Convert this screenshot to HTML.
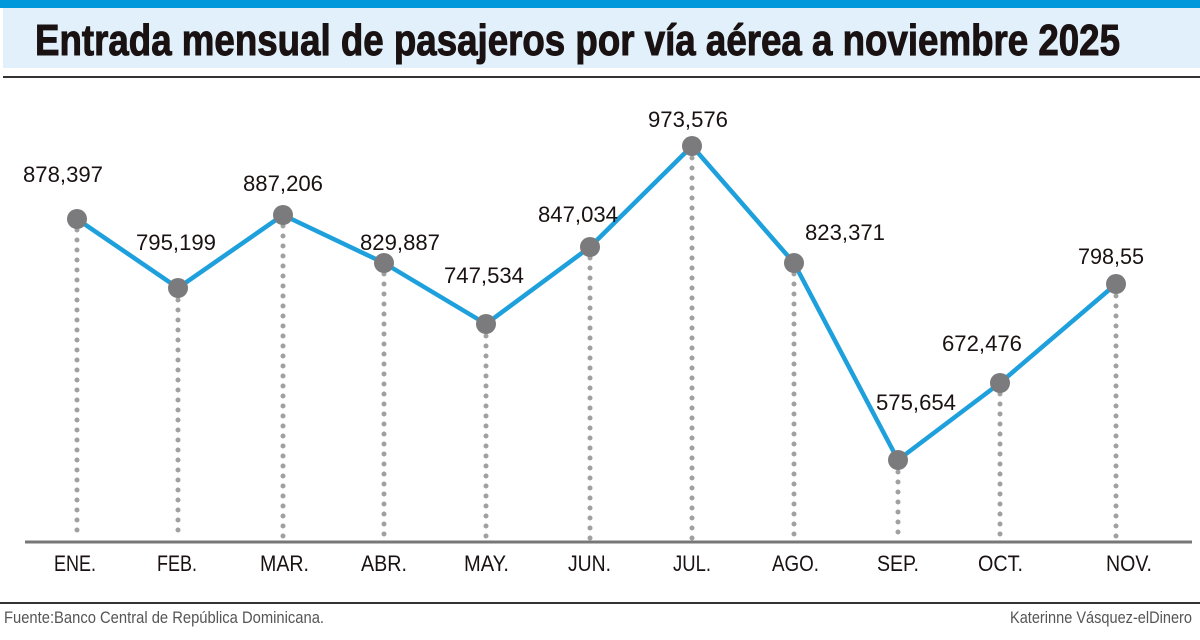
<!DOCTYPE html>
<html><head><meta charset="utf-8"><style>
html,body{margin:0;padding:0;background:#fff}
svg{display:block}
text{font-family:"Liberation Sans",sans-serif}
</style></head><body>
<svg width="1200" height="640" viewBox="0 0 1200 640" xmlns="http://www.w3.org/2000/svg">
<rect x="0" y="0" width="1200" height="8" fill="#0098da"/>
<rect x="3" y="8" width="1197" height="60" fill="#e1f0fa"/>
<text x="35" y="55" font-size="44" font-weight="bold" fill="#1a1212" stroke="#1a1212" stroke-width="1" textLength="1085" lengthAdjust="spacingAndGlyphs">Entrada mensual de pasajeros por vía aérea a noviembre 2025</text>
<line x1="3" y1="77" x2="1200" y2="77" stroke="#333" stroke-width="2"/>
<g stroke="#a0a0a0" stroke-width="5" stroke-linecap="round" stroke-dasharray="0 10">
<line x1="77" y1="230" x2="77" y2="540"/>
<line x1="178" y1="300" x2="178" y2="540"/>
<line x1="283" y1="226" x2="283" y2="540"/>
<line x1="384" y1="274" x2="384" y2="540"/>
<line x1="486" y1="336" x2="486" y2="540"/>
<line x1="590" y1="258" x2="590" y2="540"/>
<line x1="692" y1="158" x2="692" y2="540"/>
<line x1="794" y1="274" x2="794" y2="540"/>
<line x1="898" y1="472" x2="898" y2="540"/>
<line x1="1000" y1="394" x2="1000" y2="540"/>
<line x1="1116" y1="296" x2="1116" y2="540"/>
</g>
<line x1="25" y1="542" x2="1192" y2="542" stroke="#777" stroke-width="3"/>
<polyline fill="none" stroke="#1ea0dc" stroke-width="4.5" stroke-linejoin="round" points="77,219 178,288 283,215 384,263 486,324 590,247 692,146 794,263 898,460 1000,383 1116,284"/>
<g fill="#7b7b7d">
<circle cx="77" cy="219" r="10"/><circle cx="178" cy="288" r="10"/><circle cx="283" cy="215" r="10"/><circle cx="384" cy="263" r="10"/><circle cx="486" cy="324" r="10"/><circle cx="590" cy="247" r="10"/><circle cx="692" cy="146" r="10"/><circle cx="794" cy="263" r="10"/><circle cx="898" cy="460" r="10"/><circle cx="1000" cy="383" r="10"/><circle cx="1116" cy="284" r="10"/>
</g>
<g font-size="22" fill="#1a1212">
<text x="23" y="182" textLength="80" lengthAdjust="spacingAndGlyphs">878,397</text>
<text x="136" y="250" textLength="80" lengthAdjust="spacingAndGlyphs">795,199</text>
<text x="243" y="191" textLength="80" lengthAdjust="spacingAndGlyphs">887,206</text>
<text x="360" y="250" textLength="80" lengthAdjust="spacingAndGlyphs">829,887</text>
<text x="444" y="283" textLength="80" lengthAdjust="spacingAndGlyphs">747,534</text>
<text x="538" y="222" textLength="80" lengthAdjust="spacingAndGlyphs">847,034</text>
<text x="648" y="127" textLength="80" lengthAdjust="spacingAndGlyphs">973,576</text>
<text x="805" y="240" textLength="80" lengthAdjust="spacingAndGlyphs">823,371</text>
<text x="876" y="410" textLength="80" lengthAdjust="spacingAndGlyphs">575,654</text>
<text x="942" y="351" textLength="80" lengthAdjust="spacingAndGlyphs">672,476</text>
<text x="1078" y="264" textLength="66" lengthAdjust="spacingAndGlyphs">798,55</text>
</g>
<g font-size="22" fill="#1a1212">
<text x="54" y="571" textLength="42" lengthAdjust="spacingAndGlyphs">ENE.</text>
<text x="157" y="571" textLength="40" lengthAdjust="spacingAndGlyphs">FEB.</text>
<text x="260" y="571" textLength="49" lengthAdjust="spacingAndGlyphs">MAR.</text>
<text x="361" y="571" textLength="46" lengthAdjust="spacingAndGlyphs">ABR.</text>
<text x="464" y="571" textLength="45" lengthAdjust="spacingAndGlyphs">MAY.</text>
<text x="568" y="571" textLength="43" lengthAdjust="spacingAndGlyphs">JUN.</text>
<text x="673" y="571" textLength="38" lengthAdjust="spacingAndGlyphs">JUL.</text>
<text x="772" y="571" textLength="47" lengthAdjust="spacingAndGlyphs">AGO.</text>
<text x="877" y="571" textLength="42" lengthAdjust="spacingAndGlyphs">SEP.</text>
<text x="978" y="571" textLength="45" lengthAdjust="spacingAndGlyphs">OCT.</text>
<text x="1106" y="571" textLength="46" lengthAdjust="spacingAndGlyphs">NOV.</text>
</g>
<line x1="0" y1="603" x2="1200" y2="603" stroke="#333" stroke-width="2"/>
<text x="4" y="623" font-size="17" fill="#555" textLength="320" lengthAdjust="spacingAndGlyphs">Fuente:Banco Central de República Dominicana.</text>
<text x="1010" y="623" font-size="17" fill="#555" textLength="182" lengthAdjust="spacingAndGlyphs">Katerinne Vásquez-elDinero</text>
</svg>
</body></html>
